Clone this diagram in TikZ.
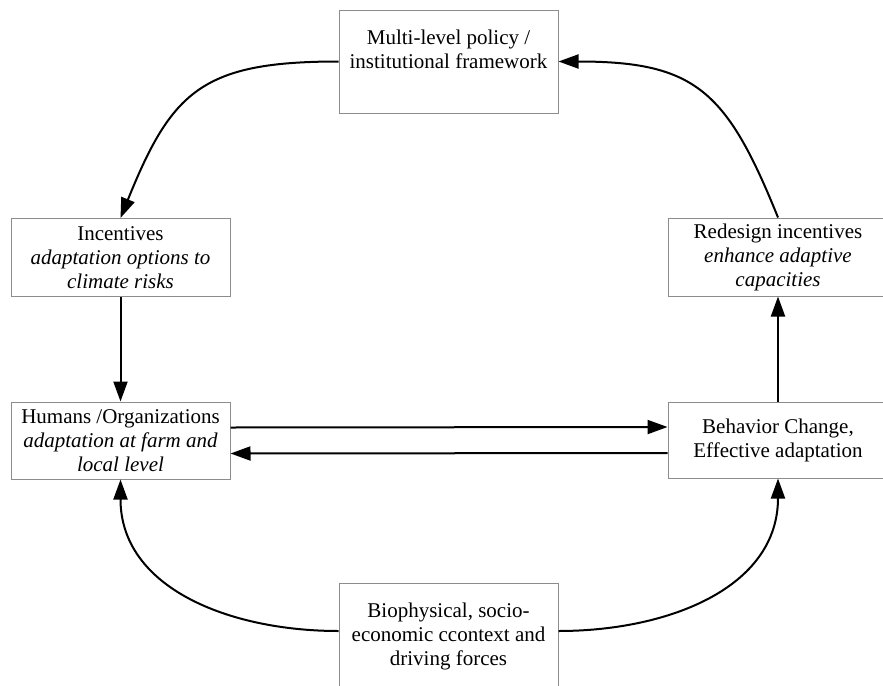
\documentclass[tikz,border=0pt]{standalone}
\usepackage{fontspec}
\setmainfont{Liberation Serif}
\usetikzlibrary{positioning}
\usetikzlibrary {arrows.meta}
\tikzset{cyclebox/.style={rectangle,draw=black!45,fill=white,line width=0.5pt,
inner sep=0pt,align=center,font=\fontsize{10.5}{12}\selectfont,
minimum width=109.5pt, minimum height=39pt}}
\tikzset{cyclearrow/.style={line width=1pt,-{Triangle[length=10pt,width=7pt]}}}

\begin{document}
\begin{tikzpicture}[x=0.5pt,y=-0.5pt]
        \useasboundingbox (0,0) rectangle (883,685);

        \node[cyclebox, minimum height=51.5pt] (boxPol) at (448.5, 61.5) {Multi-level policy /\\ institutional framework\\ \mbox{}};
        \node[cyclebox] (boxInc) at (120.5, 257.5) {Incentives\\ \textit{adaptation options to}\\ \textit{climate risks}};
        \node[cyclebox, minimum width=110pt] (boxRed) at (778, 257) {Redesign incentives\\ \textit{enhance adaptive}\\ \textit{capacities}};
        \node[cyclebox, minimum height=38.5pt] (boxHum) at (120.5, 440.5) {Humans /Organizations\\ \textit{adaptation at farm and}\\ \textit{local level}};
        \node[cyclebox, minimum width=110pt, minimum height=38pt] (boxBeh) at (778, 440) {Behavior Change,\\ Effective adaptation};
        \node[cyclebox, minimum height=53pt] (boxBio) at (448.5, 636) {Biophysical, socio-\\ economic ccontext and\\ driving forces};

        \draw [cyclearrow] (boxPol.west) to[out=180,in=68,looseness=1.3] (boxInc.north);
        \draw [cyclearrow] (boxInc.south) -- (boxHum.north);
        \draw [cyclearrow] ([yshift=6.5pt]boxHum.east) -- ([yshift=6.5pt]boxBeh.west);
        \draw [cyclearrow] ([yshift=-6.5pt]boxBeh.west) -- ([yshift=-6.5pt]boxHum.east);
        \draw [cyclearrow] (boxBeh.north) -- (boxRed.south);
        \draw [cyclearrow] (boxRed.north) to[out=112,in=0,looseness=1.3] (boxPol.east);
        \draw [cyclearrow] ([yshift=2.5pt]boxBio.west) to[out=180,in=-90,looseness=1.05] (boxHum.south);
        \draw [cyclearrow] ([yshift=2.5pt]boxBio.east) to[out=0,in=-90,looseness=1.05] (boxBeh.south);

    \end{tikzpicture}
\end{document}
